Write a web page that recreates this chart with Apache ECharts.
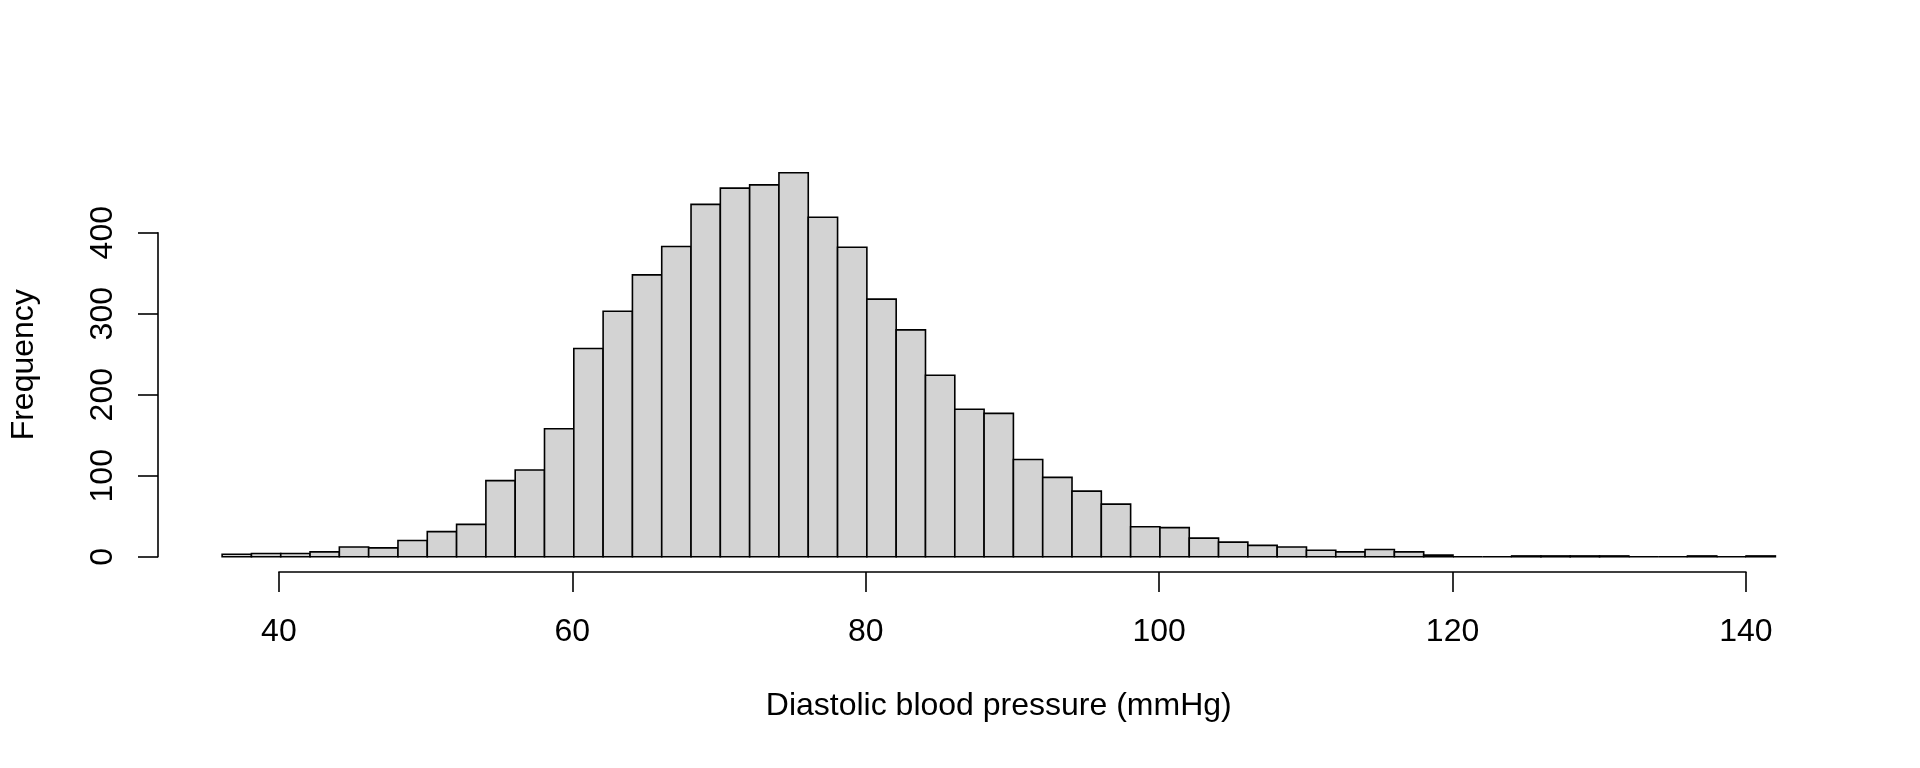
<!DOCTYPE html>
<html>
<head>
<meta charset="utf-8">
<script src="https://cdn.jsdelivr.net/npm/echarts@6/dist/echarts.min.js"></script>
<style>
html,body{margin:0;padding:0;background:#fff;}
#chart{width:1920px;height:768px;}
</style>
</head>
<body>
<div id="chart"></div>
<script>
// ---- data ----
const binLower = [36,38,40,42,44,46,48,50,52,54,56,58,60,62,64,66,68,70,72,74,76,78,80,82,84,86,88,90,92,94,96,98,100,102,104,106,108,110,112,114,116,118,120,122,124,126,128,130,132,134,136,138,140];
const binUpper = [38,40,42,44,46,48,50,52,54,56,58,60,62,64,66,68,70,72,74,76,78,80,82,84,86,88,90,92,94,96,98,100,102,104,106,108,110,112,114,116,118,120,122,124,126,128,130,132,134,136,138,140,142];
const counts = [3,4,4,6,12,11,20,31,40,94,107,158,257,303,348,383,435,455,459,474,419,382,318,280,224,182,177,120,98,81,65,37,36,23,18,14,12,8,6,9,6,2,0,0,1,1,1,1,0,0,1,0,1];
const xTicks = [40,60,80,100,120,140];
const yTicks = [0,100,200,300,400];
const xTitle = 'Diastolic blood pressure (mmHg)';
const yTitle = 'Frequency';

// ---- layout (R-style plot region, 4% range expansion) ----
const W = 1920, H = 768;
const PL = 158, PR = 1837.5, PT = 157.4, PB = 572.1;
const xLo = binLower[0], xHi = binUpper[binUpper.length - 1];
const yHi = Math.max.apply(null, counts);
const ux0 = xLo - 0.04 * (xHi - xLo), ux1 = xHi + 0.04 * (xHi - xLo);
const uy0 = -0.04 * yHi, uy1 = yHi * 1.04;
const px = v => PL + (v - ux0) / (ux1 - ux0) * (PR - PL);
const py = v => PB - (v - uy0) / (uy1 - uy0) * (PB - PT);

const FONT = 'Liberation Sans, Arial, Helvetica, sans-serif';
const FS = 32;
const LW = 1.6;

const hist = binLower.map((lo, i) => [lo, binUpper[i], counts[i]]);

const chart = echarts.init(document.getElementById('chart'), null, {renderer: 'canvas'});
chart.setOption({
  backgroundColor: '#ffffff',
  animation: false,
  grid: [
    {left: PL, right: W - PR, top: PT, bottom: H - PB, containLabel: false},
    {left: px(xTicks[0]), right: W - px(xTicks[xTicks.length - 1]), top: PT, bottom: H - PB, containLabel: false},
    {left: PL, right: W - PR, top: py(yTicks[yTicks.length - 1]), bottom: H - py(yTicks[0]), containLabel: false}
  ],
  xAxis: [
    {
      type: 'value', gridIndex: 0, min: ux0, max: ux1,
      axisLine: {show: false}, axisTick: {show: false}, axisLabel: {show: false}, splitLine: {show: false},
      name: xTitle, nameLocation: 'middle', nameGap: 118,
      nameTextStyle: {fontFamily: FONT, fontSize: FS, color: '#000'}
    },
    {
      type: 'value', gridIndex: 1, min: xTicks[0], max: xTicks[xTicks.length - 1], interval: 20,
      position: 'bottom',
      axisLine: {show: true, onZero: false, lineStyle: {color: '#000', width: LW}},
      axisTick: {show: true, inside: false, length: 20, lineStyle: {color: '#000', width: LW}},
      axisLabel: {show: true, margin: 44, fontFamily: FONT, fontSize: FS, color: '#000'},
      splitLine: {show: false}
    },
    {
      type: 'value', gridIndex: 2, min: ux0, max: ux1, show: false
    }
  ],
  yAxis: [
    {
      type: 'value', gridIndex: 0, min: uy0, max: uy1,
      axisLine: {show: false}, axisTick: {show: false}, axisLabel: {show: false}, splitLine: {show: false},
      name: yTitle, nameLocation: 'middle', nameGap: 120,
      nameTextStyle: {fontFamily: FONT, fontSize: FS, color: '#000'}
    },
    {
      type: 'value', gridIndex: 1, min: uy0, max: uy1, show: false
    },
    {
      type: 'value', gridIndex: 2, min: yTicks[0], max: yTicks[yTicks.length - 1], interval: 100,
      position: 'left',
      axisLine: {show: true, onZero: false, lineStyle: {color: '#000', width: LW}},
      axisTick: {show: true, inside: false, length: 20, lineStyle: {color: '#000', width: LW}},
      axisLabel: {show: true, rotate: 90, margin: 39, fontFamily: FONT, fontSize: FS, color: '#000'},
      splitLine: {show: false}
    }
  ],
  series: [{
    type: 'custom',
    xAxisIndex: 0, yAxisIndex: 0,
    clip: false,
    data: hist,
    encode: {x: [0, 1], y: 2},
    renderItem: function (params, api) {
      const a = api.coord([api.value(0), api.value(2)]);
      const b = api.coord([api.value(1), 0]);
      return {
        type: 'rect',
        shape: {x: a[0], y: a[1], width: b[0] - a[0], height: b[1] - a[1]},
        style: {fill: '#d3d3d3', stroke: '#000', lineWidth: LW}
      };
    }
  }]
});
</script>
</body>
</html>
